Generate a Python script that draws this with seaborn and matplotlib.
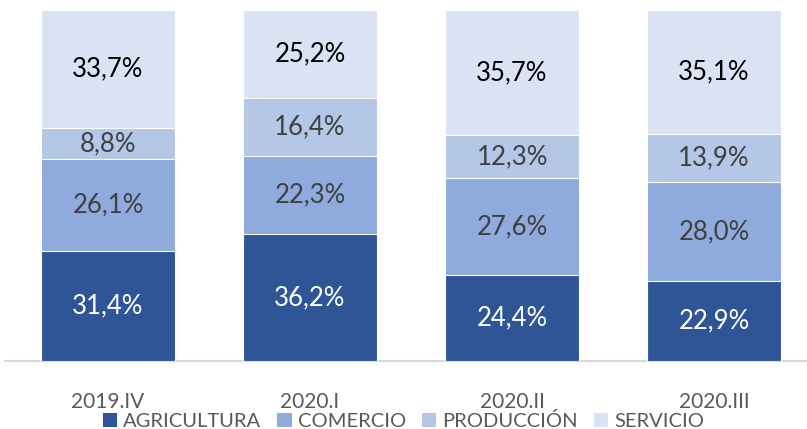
import matplotlib
matplotlib.use("Agg")
import matplotlib.pyplot as plt
import seaborn as sns
import pandas as pd
import numpy as np
from matplotlib.patches import Patch

sns.set_theme(style="white")
plt.rcParams['font.family'] = ['Lato', 'DejaVu Sans']

categories = ["2019.IV", "2020.I", "2020.II", "2020.III"]
series_names = ["AGRICULTURA", "COMERCIO", "PRODUCCIÓN", "SERVICIO"]
agricultura = [31.4, 36.2, 24.4, 22.9]
comercio = [26.1, 22.3, 27.6, 28.0]
produccion = [8.8, 16.4, 12.3, 13.9]
servicio = [33.7, 25.2, 35.7, 35.1]

colors = ["#2F5597", "#8FAADC", "#B4C7E7", "#DAE3F3"]
text_colors = ["white", "#404040", "#404040", "black"]

series = [agricultura, comercio, produccion, servicio]
df = pd.DataFrame({"cat": categories})

fig = plt.figure(figsize=(8.07, 4.29), dpi=100)
ax = fig.add_axes([5/807, 68/429, 802/807, 351/429])

bottom = np.zeros(len(categories))
for k, (name, vals, col, tcol) in enumerate(zip(series_names, series, colors, text_colors)):
    tmp = df.copy()
    tmp["val"] = np.array(vals) + bottom
    sns.barplot(data=tmp, x="cat", y="val", color=col, width=0.66, ax=ax,
                saturation=1, zorder=5 - k, edgecolor="white", linewidth=0.8)
    for i, v in enumerate(vals):
        ax.text(i, bottom[i] + v / 2, f"{v:.1f}".replace(".", ",") + "%",
                ha="center", va="center", fontsize=18.5, color=tcol, zorder=10)
    bottom += np.array(vals)

ax.set_ylim(0, 100)
ax.set_xlim(-0.51, 3.46)
ax.set_xlabel("")
ax.set_ylabel("")
ax.set_yticks([])
for s in ["top", "right", "left"]:
    ax.spines[s].set_visible(False)
ax.spines["bottom"].set_color("#D9D9D9")
ax.spines["bottom"].set_linewidth(1.5)
ax.tick_params(axis="x", length=0, pad=22, labelsize=15, labelcolor="#595959")

handles = [Patch(facecolor=c, edgecolor="none") for c in colors]
fig.legend(handles, series_names, loc="center", bbox_to_anchor=(0.5, 8/429),
           ncol=4, frameon=False, fontsize=14.5, labelcolor="#595959",
           handlelength=0.7, handleheight=0.7, handletextpad=0.3, columnspacing=0.8)

fig.savefig("out.png", dpi=100)
